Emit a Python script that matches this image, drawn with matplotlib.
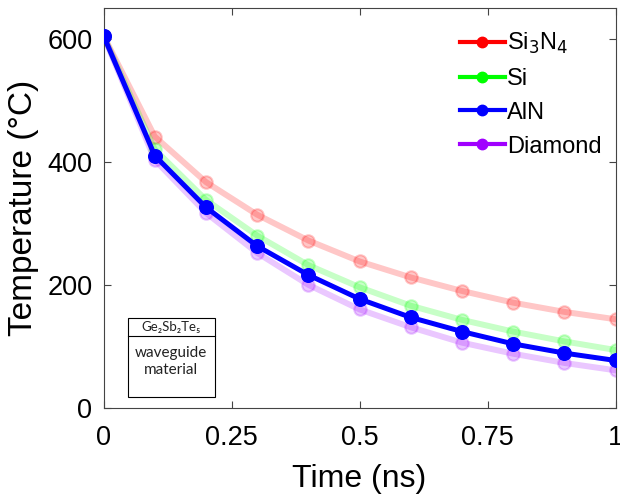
import matplotlib
matplotlib.use("Agg")
import matplotlib.pyplot as plt
from matplotlib.patches import Rectangle

plt.rcParams['font.family'] = ['Liberation Sans', 'DejaVu Sans']

time_ns = [0, 0.1, 0.2, 0.3, 0.4, 0.5, 0.6, 0.7, 0.8, 0.9, 1.0]
si3n4 = [605, 441, 367, 314, 272, 238, 212, 190, 171, 156, 144]
si = [605, 420, 338, 280, 232, 196, 166, 143, 124, 108, 94]
aln = [605, 410, 326, 263, 216, 177, 147, 124, 104, 89, 77]
diamond = [605, 403, 317, 252, 200, 160, 131, 106, 88, 73, 61]

series = [("Si$_3$N$_4$", si3n4, "#ff0000", True),
          ("Si", si, "#00ff00", True),
          ("AlN", aln, "#0000ff", False),
          ("Diamond", diamond, "#a000ff", True)]

fig = plt.figure(figsize=(6.2, 4.98), dpi=100)
ax = fig.add_axes([0.167, 0.181, 0.826, 0.803])

handles = []
for label, vals, color, faded in series:
    if faded:
        ax.plot(time_ns, vals, color=color, lw=4.3, alpha=0.22, marker='o', ms=9,
                mec=color, mfc=color, mew=1.5, zorder=2)
    else:
        ax.plot(time_ns, vals, color=color, lw=3.6, marker='o', ms=9.8,
                mec=color, mfc=color, zorder=3)
    h, = ax.plot([], [], color=color, lw=3, marker='o', ms=7.5, label=label)
    handles.append(h)

ax.legend(handles=handles, loc='upper right', frameon=False, fontsize=17,
          handlelength=1.9, handletextpad=0.1, labelspacing=0.5,
          bbox_to_anchor=(1.0, 0.978), borderaxespad=0.2)

ax.set_xlim(0, 1)
ax.set_ylim(0, 650)
ax.set_xticks([0, 0.25, 0.5, 0.75, 1])
ax.set_xticklabels(['0', '0.25', '0.5', '0.75', '1'])
ax.set_yticks([0, 200, 400, 600])
ax.tick_params(direction='in', top=True, right=True, labelsize=19.5, length=5,
               color='#444444')
ax.tick_params(axis='y', pad=8)
ax.tick_params(axis='x', pad=12)
for s in ax.spines.values():
    s.set_color('#444444')
    s.set_linewidth(0.8)
ax.set_xlabel('Time (ns)', fontsize=23, labelpad=10)
ax.set_ylabel('Temperature (°C)', fontsize=24, labelpad=6)

# inset box
bx0, by0, bw, bh = 0.047, 0.0275, 0.17, 0.1975
hh = 0.045
ax.add_patch(Rectangle((bx0, by0), bw, bh, transform=ax.transAxes, fill=True,
                       fc='white', ec='black', lw=0.8, zorder=5))
ax.plot([bx0, bx0 + bw], [by0 + bh - hh, by0 + bh - hh],
        transform=ax.transAxes, color='black', lw=0.8, zorder=6)
ax.text(bx0 + bw / 2, by0 + bh - hh / 2, 'Ge₂Sb₂Te₅', transform=ax.transAxes,
        ha='center', va='center', fontsize=9.5, zorder=7,
        family=['Lato', 'DejaVu Sans'], color='#222222')
ax.text(bx0 + bw / 2, by0 + (bh - hh) / 2 + 0.012, 'waveguide\nmaterial',
        transform=ax.transAxes, ha='center', va='center', fontsize=11,
        zorder=7, linespacing=1.2, family=['Lato', 'DejaVu Sans'],
        color='#222222')

fig.savefig('out.png', dpi=100)
